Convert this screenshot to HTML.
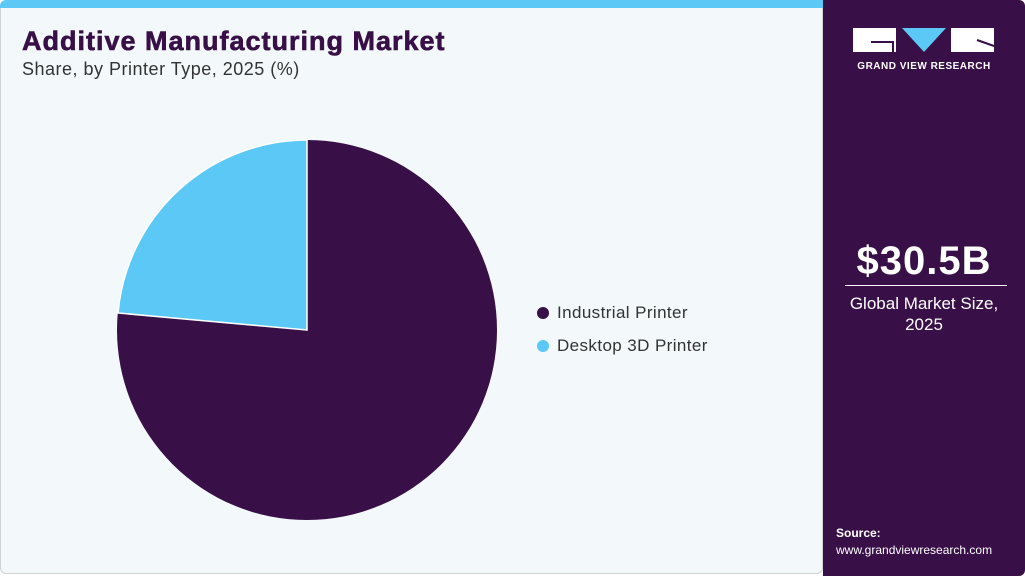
<!DOCTYPE html>
<html><head><style>
body{margin:0;width:1025px;height:576px;overflow:hidden;font-family:"Liberation Sans",Arial,sans-serif;background:#fff}
.main{position:absolute;left:0;top:0;width:823px;height:574px;background:#f3f8fb;border:1px solid #cfd3d6;border-radius:6px;box-sizing:border-box}
.bar{position:absolute;left:0;top:0;width:823px;height:8px;background:#5bc8f5;border-radius:6px 0 0 0}
.side{position:absolute;left:823px;top:0;width:202px;height:576px;background:#380f47;border-radius:0 6px 6px 0}
h1{position:absolute;left:22px;top:26px;margin:0;font-size:27px;font-weight:900;color:#380f47;letter-spacing:1px;-webkit-text-stroke:0.6px #380f47}
.sub{position:absolute;left:22px;top:59px;font-size:18px;color:#333;letter-spacing:0.5px}
.leg{position:absolute;left:537px;font-size:17px;color:#333;letter-spacing:0.4px}
.dot{display:inline-block;width:12px;height:12px;border-radius:50%;margin-right:8px;vertical-align:-1px}
</style></head><body>
<div class="main"></div><div class="bar"></div>
<h1>Additive Manufacturing Market</h1>
<div class="sub">Share, by Printer Type, 2025 (%)</div>
<svg style="position:absolute;left:0;top:0" width="823" height="576">
<circle cx="307" cy="330" r="190" fill="#380f47"/>
<path d="M307 330 L118 313 A190 190 0 0 1 307 140 Z" fill="#5bc8f5" stroke="#fff" stroke-width="1.5"/>
</svg>
<div class="leg" style="top:303px"><span class="dot" style="background:#380f47"></span>Industrial Printer</div>
<div class="leg" style="top:336px"><span class="dot" style="background:#5bc8f5"></span>Desktop 3D Printer</div>
<div class="side">
<svg style="position:absolute;left:30px;top:28px" width="142" height="26">
<rect x="0" y="0" width="43" height="24" fill="#fff"/>
<path d="M18 14 H40 V24" stroke="#380f47" stroke-width="2" fill="none"/>
<polygon points="49,0 93,0 71,24" fill="#5bc8f5"/>
<rect x="98" y="0" width="43" height="24" fill="#fff"/>
<path d="M124 12 L141 18" stroke="#380f47" stroke-width="2"/>
</svg>
<div style="position:absolute;left:0;width:202px;top:61px;text-align:center;color:#fff;font-size:10px;font-weight:bold;letter-spacing:0.5px">GRAND VIEW RESEARCH</div>
<div style="position:absolute;left:0;width:202px;top:239px;text-align:center;color:#fff;font-size:40px;font-weight:bold;letter-spacing:1px">$30.5B</div>
<div style="position:absolute;left:22px;width:162px;top:285px;border-top:1px solid #fff"></div>
<div style="position:absolute;left:0;width:202px;top:293px;text-align:center;color:#fff;font-size:17px;line-height:21px">Global Market Size,<br>2025</div>
<div style="position:absolute;left:13px;top:526px;color:#fff;font-size:12px;font-weight:bold">Source:</div>
<div style="position:absolute;left:13px;top:543px;color:#fff;font-size:12px">www.grandviewresearch.com</div>
</div>
</body></html>
